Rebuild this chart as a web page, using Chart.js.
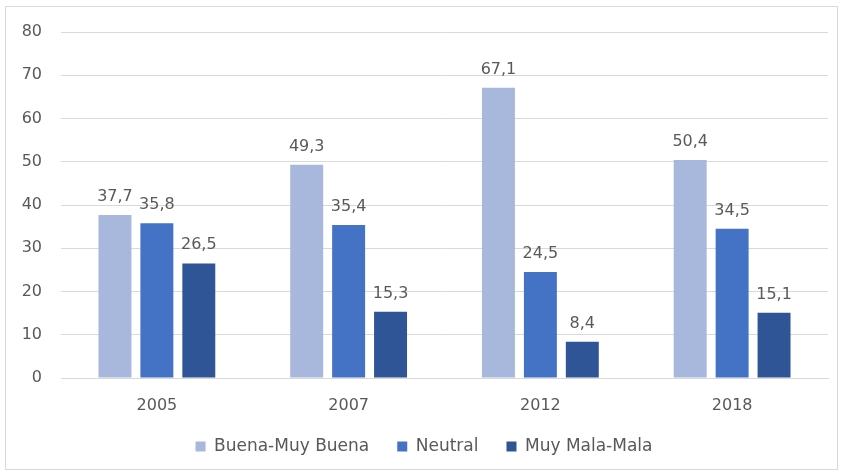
<!DOCTYPE html>
<html lang="es">
<head>
    <meta charset="UTF-8">
    <title>Valoración 2005-2018</title>
    <style>
        body {
            margin: 0;
            padding: 0;
            background-color: #ffffff;
            font-family: 'DejaVu Sans', sans-serif;
        }

        #frame {
            position: absolute;
            left: 5px;
            top: 6px;
            width: 831px;
            height: 462px;
            border: 1px solid #d9d9d9;
        }

        canvas {
            display: block;
        }
    </style>
    <script src="https://cdn.jsdelivr.net/npm/chart.js"></script>
</head>
<body>

<div id="frame">
    <canvas id="myChart" width="831" height="462"></canvas>
</div>

<script>
    // Datos
    const years = ['2005', '2007', '2012', '2018'];
    const buena = [37.7, 49.3, 67.1, 50.4];
    const neutral = [35.8, 35.4, 24.5, 34.5];
    const mala = [26.5, 15.3, 8.4, 15.1];
    const yTicks = [0, 10, 20, 30, 40, 50, 60, 70, 80];

    const textColor = '#595959';
    const fontFamily = 'DejaVu Sans';

    // Etiquetas de valor sobre cada barra (coma decimal)
    const valueLabels = {
        id: 'valueLabels',
        afterDatasetsDraw(chart) {
            const ctx = chart.ctx;
            ctx.save();
            ctx.font = '16px "' + fontFamily + '", sans-serif';
            ctx.fillStyle = textColor;
            ctx.textAlign = 'center';
            ctx.textBaseline = 'alphabetic';
            chart.data.datasets.forEach((ds, i) => {
                chart.getDatasetMeta(i).data.forEach((bar, j) => {
                    const txt = ds.data[j].toFixed(1).replace('.', ',');
                    ctx.fillText(txt, bar.x, bar.y - 14);
                });
            });
            ctx.restore();
        }
    };

    // Sube un poco la fila de la leyenda
    const legendShift = {
        id: 'legendShift',
        beforeUpdate(chart) {
            const legend = chart.legend;
            if (legend && !legend._shiftPatched) {
                const origDraw = legend.draw;
                legend.draw = function () {
                    this.ctx.save();
                    this.ctx.translate(0, -4);
                    origDraw.apply(this, arguments);
                    this.ctx.restore();
                };
                legend._shiftPatched = true;
            }
        }
    };

    const ctx = document.getElementById('myChart').getContext('2d');
    const chart = new Chart(ctx, {
        type: 'bar',
        data: {
            labels: years,
            datasets: [
                { label: 'Buena-Muy Buena', data: buena, backgroundColor: '#a8b7dc' },
                { label: 'Neutral', data: neutral, backgroundColor: '#4472c4' },
                { label: 'Muy Mala-Mala', data: mala, backgroundColor: '#2f5597' }
            ]
        },
        options: {
            responsive: false,
            animation: false,
            categoryPercentage: 0.656,
            barPercentage: 0.786,
            layout: {
                padding: { left: 14, right: 9, top: 0, bottom: 0 }
            },
            plugins: {
                legend: {
                    position: 'bottom',
                    labels: {
                        color: textColor,
                        font: { family: fontFamily, size: 17 },
                        boxWidth: 10,
                        boxHeight: 10,
                        padding: 28
                    }
                },
                tooltip: { enabled: false }
            },
            scales: {
                x: {
                    afterFit(scale) {
                        scale.height = 36;
                    },
                    grid: { display: false, drawTicks: false },
                    border: { color: '#d9d9d9' },
                    ticks: {
                        color: textColor,
                        font: { family: fontFamily, size: 16 },
                        padding: 18
                    }
                },
                y: {
                    min: 0,
                    max: 80,
                    afterBuildTicks(scale) {
                        scale.ticks = yTicks.map(v => ({ value: v }));
                    },
                    afterFit(scale) {
                        scale.width = 41;
                        scale.paddingTop = 25;
                    },
                    grid: { color: '#d9d9d9', drawTicks: false },
                    border: { display: false },
                    ticks: {
                        color: textColor,
                        font: { family: fontFamily, size: 16 },
                        padding: 19
                    }
                }
            }
        },
        plugins: [valueLabels, legendShift]
    });
</script>

</body>
</html>
